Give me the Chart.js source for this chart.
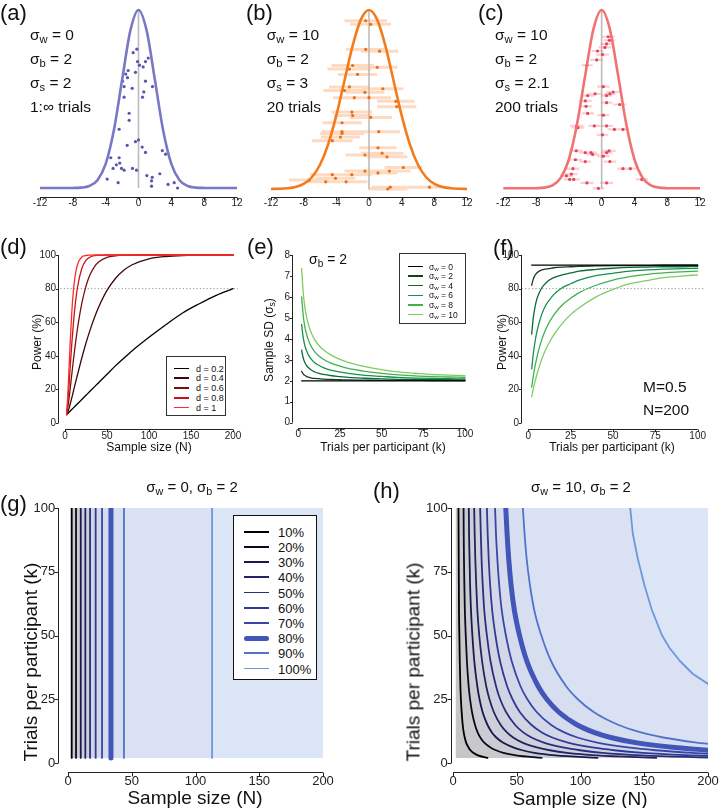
<!DOCTYPE html>
<html><head><meta charset="utf-8">
<script src="https://cdn.jsdelivr.net/npm/chart.js@4.4.1/dist/chart.umd.min.js"></script>
<style>
html,body{margin:0;padding:0;background:#fff;}
#fig{position:relative;width:719px;height:808px;overflow:hidden;font-family:'Liberation Sans',Arial,Helvetica,sans-serif;color:#111;}
canvas{position:absolute;}
.t{position:absolute;white-space:nowrap;line-height:1;}
.t sub,.lg sub{font-size:72%;vertical-align:-0.28em;line-height:0;}
.leg{position:absolute;background:#fff;box-sizing:border-box;}
.lg{position:absolute;white-space:nowrap;line-height:1;transform:translateY(-50%);}
.ls{position:absolute;}
</style></head>
<body><div id="fig"></div>
<script>
// ---------------- DATA ----------------
const GX = [-12,-11,-10,-9,-8,-7,-6,-5,-4,-3,-2,-1,0,1,2,3,4,5,6,7,8,9,10,11,12];
const GAUSS_A = [0,0,0,0,0.0003,0.0022,0.0111,0.0439,0.1353,0.3247,0.6065,0.8825,1,0.8825,0.6065,0.3247,0.1353,0.0439,0.0111,0.0022,0.0003,0,0,0,0];
const GAUSS_B = [0.0003,0.0012,0.0039,0.0111,0.0286,0.0657,0.1353,0.2494,0.4111,0.6065,0.8007,0.946,1,0.946,0.8007,0.6065,0.4111,0.2494,0.1353,0.0657,0.0286,0.0111,0.0039,0.0012,0.0003];
const GAUSS_C = [0,0,0,0.0001,0.0007,0.0039,0.0169,0.0587,0.1628,0.3604,0.6356,0.8929,1,0.8929,0.6356,0.3604,0.1628,0.0587,0.0169,0.0039,0.0007,0.0001,0,0,0];
const ROW1_TICKS = [-12,-8,-4,0,4,8,12];

const DOTS_A_X = [-0.65,-0.2,-0.12,1.18,0.85,0.12,0.57,-1.26,-0.37,-1.55,-1.95,-1.34,0.85,1.7,-1.75,-0.77,0.65,-1.75,0.49,-1.14,-1.14,-2.36,0,-0.37,-1.38,0.45,0.85,2.9,3.3,-3.38,-2.36,-2.28,-2.7,-3.1,-2.07,-1.75,-0.73,-0.24,2.6,1.02,1.67,1.59,-3.82,-2.48,1.59,3.6,4.35,4.76];
const DOTS_A_Y = [0.76,0.78,0.71,0.73,0.71,0.69,0.68,0.66,0.65,0.64,0.60,0.62,0.60,0.57,0.57,0.56,0.54,0.51,0.51,0.42,0.38,0.33,0.27,0.26,0.24,0.23,0.20,0.21,0.19,0.17,0.17,0.14,0.13,0.11,0.11,0.10,0.11,0.10,0.08,0.07,0.06,0.04,0.05,0.03,0.01,0.02,0.03,0.0];

const DOTS_B_X = [-0.4,0.2,-0.4,1.3,-2.0,1.0,-2.4,-1.4,-2.4,-3.0,-0.5,1.7,-1.8,0.0,3.3,3.4,-2.1,-2.0,0.2,-3.3,-3.3,1.2,-3.3,-3.5,-4.5,1.1,1.6,-0.5,2.2,4.2,2.5,-0.5,1.1,-4.5,-2.1,-4.1,-2.8,-5.3,2.6,2.3,7.4,-7.3];
const DOTS_B_Y = [0.94,0.92,0.78,0.77,0.69,0.68,0.67,0.64,0.57,0.55,0.54,0.56,0.51,0.51,0.49,0.46,0.43,0.41,0.40,0.37,0.32,0.32,0.31,0.29,0.27,0.23,0.20,0.19,0.18,0.12,0.10,0.10,0.09,0.08,0.08,0.06,0.04,0.04,0.01,0.0,0.01,0.05];
const ERR_B = [2.6,2.5,2.4,2.3,2.6,2.5,2.7,2.4,2.5,2.6,2.4,2.5,2.6,2.7,2.3,2.4,2.5,2.3,2.6,2.4,2.5,2.6,2.7,2.4,2.5,2.3,2.6,2.4,2.5,2.3,2.6,2.5,2.4,2.7,2.5,2.4,2.6,2.5,2.3,2.4,2.6,2.5];

const DOTS_C_X = [0.8,0.95,0.6,0.4,-0.5,0.1,-0.6,-1.8,0.2,1.4,1.0,-0.8,-1.7,0.6,-2.0,-1.9,0.6,2.2,-1.7,0.2,-3.05,-2.9,-0.9,0.6,1.55,2.6,0.1,-3.1,-2.0,-1.3,-1.1,0.9,0.6,0.2,-3.2,-2.0,1.0,-3.5,2.6,3.5,-3.7,-4.3,-3.9,-3.4,-1.8,4.9,-0.4,0.6];
const DOTS_C_Y = [0.85,0.83,0.81,0.79,0.77,0.75,0.72,0.69,0.57,0.54,0.53,0.53,0.52,0.52,0.49,0.46,0.48,0.47,0.42,0.41,0.35,0.34,0.35,0.35,0.33,0.33,0.30,0.21,0.20,0.20,0.19,0.21,0.20,0.18,0.16,0.15,0.15,0.11,0.11,0.11,0.08,0.07,0.05,0.05,0.03,0.05,0.0,0.03];
const ERR_C = [0.8,0.7,0.75,0.8,0.72,0.78,0.8,0.7,0.76,0.82,0.7,0.75,0.8,0.72,0.78,0.74,0.7,0.8,0.76,0.72,0.8,0.75,0.7,0.78,0.82,0.74,0.7,0.8,0.76,0.72,0.78,0.8,0.7,0.75,0.8,0.72,0.76,0.8,0.7,0.78,0.74,0.8,0.72,0.76,0.8,0.75,0.7,0.78];

const N_D = [2,3,4,5,6,8,10,12,15,20,25,30,35,40,50,60,70,80,100,120,140,160,180,200];
const POW_D02 = [5,5.5,6,6.5,7,8,9,10,11.5,14,16.5,19,21.5,24,29,34,38.5,43,51,58.5,65.5,71,76,80];
const POW_D04 = [5,6,7.5,9.0,10.9,14.8,18.9,23.0,29.0,38.7,47.6,55.6,62.7,68.9,78.9,86.0,90.9,94.2,97.7,99.1,99.7,99.9,100,100];
const POW_D06 = [5,8.5,11.3,15.3,19.7,28.6,37.4,45.6,56.6,71.2,81.5,88.5,93.0,95.8,98.6,99.5,99.9,100,100,100,100,100,100,100];
const POW_D08 = [5,10.9,16.7,24.0,31.8,46.6,59.3,69.7,81.1,92.0,96.8,98.8,99.6,99.8,100,100,100,100,100,100,100,100,100,100];
const POW_D10 = [5,13.9,23.5,35.0,46.2,65.2,78.6,87.3,94.5,98.8,99.7,99.9,100,100,100,100,100,100,100,100,100,100,100,100];
const D_LABELS = ['d = 0.2','d = 0.4','d = 0.6','d = 0.8','d = 1'];

const K_E = [2,3,4,5,6,8,10,12,15,20,25,30,40,50,60,70,80,90,100];
const SD_W0 = [2,2,2,2,2,2,2,2,2,2,2,2,2,2,2,2,2,2,2];
const SD_W2 = [2.45,2.32,2.25,2.20,2.17,2.13,2.11,2.10,2.08,2.06,2.05,2.04,2.03,2.02,2.02,2.02,2.01,2.01,2.01];
const SD_W4 = [3.46,3.07,2.86,2.72,2.63,2.50,2.42,2.36,2.30,2.24,2.20,2.16,2.12,2.09,2.07,2.06,2.05,2.05,2.04];
const SD_W6 = [4.69,4.03,3.66,3.42,3.25,3.01,2.85,2.75,2.63,2.50,2.42,2.35,2.26,2.21,2.16,2.13,2.11,2.10,2.09];
const SD_W8 = [6.00,5.08,4.54,4.21,3.95,3.60,3.37,3.21,3.03,2.83,2.70,2.59,2.45,2.35,2.28,2.23,2.20,2.18,2.16];
const SD_W10 = [7.35,6.16,5.48,5.04,4.71,4.24,3.94,3.72,3.48,3.21,3.02,2.88,2.67,2.53,2.42,2.36,2.30,2.27,2.24];
const W_LABELS = ['0','2','4','6','8','10'];

const POW_F_W0 = [94,94,94,94,94,94,94,94,94,94,94,94,94,94,94,94,94,94,94];
const POW_F_W2 = [82.0,85.9,88.0,89.3,90.1,91.1,91.6,91.9,92.4,92.8,93.0,93.3,93.5,93.7,93.7,93.7,93.9,93.9,93.9];
const POW_F_W4 = [52.9,63.0,69.2,73.6,76.4,80.5,82.9,84.8,86.5,88.2,89.3,90.4,91.4,92.1,92.6,92.8,93.0,93.0,93.3];
const POW_F_W6 = [32.2,41.5,48.5,53.9,58.2,64.8,69.5,72.6,76.4,80.5,82.9,85.1,87.7,89.1,90.4,91.1,91.6,91.9,92.1];
const POW_F_W8 = [21.4,28.2,34.0,38.6,42.9,49.8,55.1,59.2,64.2,70.2,74.2,77.6,82.0,85.1,87.1,88.5,89.3,89.9,90.4];
const POW_F_W10 = [15.7,20.6,24.8,28.5,32.0,38.1,43.1,47.2,52.5,59.2,64.5,68.6,75.1,79.5,82.9,84.8,86.5,87.4,88.2];

const LEVELS = ['10%','20%','30%','40%','50%','60%','70%','80%','90%','100%'];
const G_N = [2.9,6.3,10,13.6,17.3,21.7,26.7,33.7,43.9,113];
const K_RANGE = [2,100];
const N_MAX = 200;

const H_K = [100,90,80,70,60,50,40,30,25,20,15,12,10,8,6,5,4,3,2];
const H_N_10 = [4.3,4.4,4.5,4.6,4.7,5.0,5.3,5.8,6.2,6.8,7.6,8.4,9.2,10.3,12.3,13.7,15.9,19.6,27.0];
const H_N_20 = [8.3,8.4,8.6,8.9,9.3,10.0,10.9,12.3,13.4,14.9,17.2,19.3,21.4,24.5,29.7,33.8,39.5,49.5,69.5];
const H_N_30 = [12.4,12.6,13.0,13.4,14.1,15.2,16.7,19.1,20.8,23.2,27.0,30.5,34.0,39.1,47.7,54.4,63.9,80.4,113.3];
const H_N_40 = [16.6,17.0,17.5,18.2,19.1,20.6,22.8,26.1,28.6,32.0,37.3,42.3,47.2,54.5,66.6,76.0,89.4,112.7,159.4];
const H_K_50 = [100,90,80,70,60,50,40,30,25,20,15,12,10,8,6,5,4,3,2.1];
const H_N_50 = [21.3,21.8,22.4,23.3,24.5,26.6,29.4,33.8,37.0,41.6,48.6,55.1,61.6,71.2,87.2,99.6,117.3,148.0,200];
const H_K_60 = [100,90,80,70,60,50,40,30,25,20,15,12,10,8,6,5,4,3,2.78];
const H_N_60 = [26.6,27.2,28.0,29.1,30.7,33.3,36.9,42.5,46.7,52.4,61.4,69.7,77.9,90.1,110.6,126.4,148.9,188.1,200];
const H_K_70 = [100,90,80,70,60,50,40,30,25,20,15,12,10,8,6,5,4,3.67];
const H_N_70 = [33.0,33.7,34.8,36.2,38.2,41.5,46.0,53.0,58.3,65.6,76.8,87.3,97.6,113.1,138.8,158.7,187.1,200];
const H_K_80 = [100,90,80,70,60,50,40,30,25,20,15,12,10,8,6,5.04];
const H_N_80 = [41.4,42.4,43.7,45.5,48.1,52.2,57.9,66.9,73.6,82.9,97.2,110.6,123.7,143.3,176.1,200];
const H_K_90 = [100,90,80,70,60,50,40,30,25,20,15,12,10,8,7.5];
const H_N_90 = [54.8,56.1,57.8,60.3,63.7,69.3,76.9,88.9,97.9,110.3,129.5,147.4,164.9,191.2,200];
const H_K_100 = [100,90,80,70,60,50,45,40,35,31];
const H_N_100 = [139,141,145,150,156,164,170,178,188,200];

// ---------------- STYLE ----------------
const FONT = "'Liberation Sans', Arial, Helvetica, sans-serif";
const REDS = ['#000000','#3b0707','#7a0d0d','#c41515','#ff2b2b'];
const GREENS = ['#000000','#173f1e','#0c6b34','#16914a','#3fb152','#80cc62'];
const CONT = ['#000000','#0b0b1e','#1a1a4a','#222463','#2a2f7c','#313a93','#3846a8','#4255b8','#5074cb','#6c97dd'];
const FILLS = ['#c6c6c6','#c9c9cd','#cbccd3','#cdcfd9','#cfd2de','#d1d5e3','#d3d8e8','#d5dbec','#d7def0','#d9e1f3','#dce5f6'];

const fig = document.getElementById('fig');
const pts = (xs, ys) => xs.map((x,i)=>({x, y: ys[i]}));
function errSegments(xs, ys, es){
  const out=[];
  xs.forEach((x,i)=>{ out.push({x:x-es[i],y:ys[i]},{x:x+es[i],y:ys[i]},{x:x,y:null}); });
  return out;
}
function axisRange(ref, pa, pb){
  const [v0,p0,v1,p1]=ref; const s=(v1-v0)/(p1-p0);
  return [v0+(pa-p0)*s, v0+(pb-p0)*s];
}
function panel(cfg){
  const R=cfg.rect, A=cfg.area;
  const c=document.createElement('canvas');
  c.width=R.w; c.height=R.h;
  c.style.left=R.l+'px'; c.style.top=R.t+'px'; c.style.width=R.w+'px'; c.style.height=R.h+'px';
  fig.appendChild(c);
  const [xmin,xmax]=axisRange(cfg.xref,A.l,A.r);
  const [ymin,ymax]=axisRange(cfg.yref,A.b,A.t);
  const tf={family:FONT,size:cfg.tickSize,lineHeight:1};
  const L=cfg.tickLen;
  const rAxes={id:'rAxes'+Math.random().toString(36).slice(2),afterDraw(chart){
    const ctx=chart.ctx, a=chart.chartArea;
    ctx.save(); ctx.strokeStyle='#222'; ctx.lineWidth=1; ctx.beginPath();
    const xs=chart.scales.x, xt=xs.ticks;
    if(xt.length){
      const y=Math.round(a.bottom)+0.5;
      ctx.moveTo(xs.getPixelForValue(xt[0].value),y); ctx.lineTo(xs.getPixelForValue(xt[xt.length-1].value),y);
      xt.forEach(t=>{const p=Math.round(xs.getPixelForValue(t.value))+0.5; ctx.moveTo(p,y); ctx.lineTo(p,y+L);});
    }
    const ys=chart.scales.y, yt=ys.ticks;
    if(cfg.yticks && yt.length){
      const x=Math.round(a.left)-0.5;
      ctx.moveTo(x,ys.getPixelForValue(yt[0].value)); ctx.lineTo(x,ys.getPixelForValue(yt[yt.length-1].value));
      yt.forEach(t=>{const p=Math.round(ys.getPixelForValue(t.value))+0.5; ctx.moveTo(x,p); ctx.lineTo(x-L,p);});
    }
    ctx.stroke(); ctx.restore();
  }};
  const zeroPad=s=>{s.paddingLeft=0;s.paddingRight=0;s.paddingTop=0;s.paddingBottom=0;};
  return new Chart(c,{type:'line',data:{datasets:cfg.datasets},options:{
    responsive:false,animation:false,devicePixelRatio:1,events:[],
    layout:{padding:{left:0,top:A.t-R.t,right:R.l+R.w-A.r,bottom:0}},
    plugins:{legend:{display:false},tooltip:{enabled:false}},
    elements:{point:{radius:0},line:{borderCapStyle:'round',borderJoinStyle:'round'}},
    scales:{
      x:{type:'linear',bounds:'data',min:xmin,max:xmax,
        afterBuildTicks:s=>{s.ticks=cfg.xticks.map(v=>({value:v}));},
        afterFit:s=>{s.height=R.t+R.h-A.b; zeroPad(s);},
        grid:{display:false,drawTicks:false},border:{display:false},
        ticks:{font:tf,color:'#222',padding:cfg.padX,autoSkip:false,maxRotation:0,minRotation:0}},
      y:{type:'linear',bounds:'data',min:ymin,max:ymax,
        afterBuildTicks:s=>{s.ticks=(cfg.yticks||[]).map(v=>({value:v}));},
        afterFit:s=>{s.width=A.l-R.l; zeroPad(s);},
        grid:{display:false,drawTicks:false},border:{display:false},
        ticks:{display:!!cfg.yticks,font:tf,color:'#222',padding:cfg.padY||0,autoSkip:false}}
    }
  },plugins:[rAxes]});
}
function txt(html,x,y,size,mode){
  const d=document.createElement('div'); d.className='t'; d.innerHTML=html;
  d.style.fontSize=size+'px'; d.style.left=x+'px'; d.style.top=y+'px';
  d.style.transform = mode==='c' ? 'translate(-50%,-50%)' : mode==='r' ? 'translate(-50%,-50%) rotate(-90deg)' : 'translateY(-50%)';
  fig.appendChild(d);
}
function legend(box, items, o){
  const d=document.createElement('div'); d.className='leg';
  d.style.left=box.l+'px'; d.style.top=box.t+'px'; d.style.width=box.w+'px'; d.style.height=box.h+'px';
  d.style.border=o.border;
  items.forEach((it,i)=>{
    const y=o.y0+i*o.dy;
    const s=document.createElement('div'); s.className='ls';
    s.style.left=o.lx+'px'; s.style.width=o.lw+'px'; s.style.top=(y-it.w/2)+'px'; s.style.height=it.w+'px';
    s.style.background=it.c; if(it.w>3) s.style.borderRadius=(it.w/2)+'px';
    d.appendChild(s);
    const t=document.createElement('div'); t.className='lg'; t.innerHTML=it.label;
    t.style.left=o.tx+'px'; t.style.top=y+'px'; t.style.fontSize=o.size+'px';
    d.appendChild(t);
  });
  fig.appendChild(d);
}

// ---------------- ROW 1 ----------------
function row1(rect, area, xref, yref, gauss, curveColor, dotsX, dotsY, dotColor, err, errColor, errW){
  const peak=Math.max(...gauss);
  const ds=[
    {data:pts(GX,gauss),borderColor:curveColor,borderWidth:2.6,cubicInterpolationMode:'monotone',order:0},
    {data:pts(dotsX,dotsY),showLine:false,pointRadius:1.6,pointBackgroundColor:dotColor,pointBorderWidth:0,order:1},
    {data:[{x:0,y:0},{x:0,y:peak}],borderColor:'#bcbcbc',borderWidth:1.6,borderCapStyle:'butt',order:3}
  ];
  if(err) ds.push({data:errSegments(dotsX,dotsY,err),borderColor:errColor,borderWidth:errW,borderCapStyle:'butt',spanGaps:false,order:2});
  panel({rect,area,xref,yref,xticks:ROW1_TICKS,yticks:null,tickSize:10,tickLen:3,padX:1.5,datasets:ds});
}
row1({l:0,t:0,w:245,h:222},{l:40,t:5,r:237,b:196.7},[-12,40,12,237],[0,188,1,10],GAUSS_A,'#7878c6',DOTS_A_X,DOTS_A_Y,'#5656b0',null);
row1({l:240,t:0,w:240,h:222},{l:271,t:5,r:467,b:196.7},[-12,271,12,467],[0,189,1,10],GAUSS_B,'#f47b1b',DOTS_B_X,DOTS_B_Y,'#ef6d18',ERR_B,'rgba(250,170,110,0.42)',3);
row1({l:478,t:0,w:241,h:222},{l:503.3,t:5,r:700,b:196.7},[-12,503.3,12,700],[0,188.3,1,10],GAUSS_C,'#f27272',DOTS_C_X,DOTS_C_Y,'#e4455a',ERR_C,'rgba(240,130,140,0.38)',2.2);

txt('(a)',0,13,22); txt('(b)',246,13,22); txt('(c)',478,13,22);
const R1Y=[35,59,83,107];
[[30,['σ<sub>w</sub> = 0','σ<sub>b</sub> = 2','σ<sub>s</sub> = 2','1:∞ trials']],
 [266.7,['σ<sub>w</sub> = 10','σ<sub>b</sub> = 2','σ<sub>s</sub> = 3','20 trials']],
 [495,['σ<sub>w</sub> = 10','σ<sub>b</sub> = 2','σ<sub>s</sub> = 2.1','200 trials']]].forEach(([x,lines])=>{
  lines.forEach((l,i)=>txt(l,x,R1Y[i],15.5));
});

// ---------------- ROW 2 ----------------
const refLine80 = {data:[{x:-50,y:80},{x:300,y:80}],borderColor:'#8a8a8a',borderWidth:0.9,borderDash:[1.2,2.2],borderCapStyle:'butt',order:9};
panel({rect:{l:0,t:235,w:245,h:215},area:{l:59.3,t:252,r:238,b:429.3},xref:[0,65,200,233],yref:[0,423,100,255],
  xticks:[0,50,100,150,200],yticks:[0,20,40,60,80,100],tickSize:10,tickLen:2.5,padX:1.5,padY:3.2,
  datasets:[POW_D02,POW_D04,POW_D06,POW_D08,POW_D10].map((arr,i)=>({data:pts(N_D,arr),borderColor:REDS[i],borderWidth:1.3,cubicInterpolationMode:'monotone',order:5-i})).concat([refLine80])});
panel({rect:{l:240,t:235,w:235,h:215},area:{l:293.3,t:252,r:468,b:427.7},xref:[0,298.3,100,465],yref:[0,422.7,8,255],
  xticks:[0,25,50,75,100],yticks:[0,1,2,3,4,5,6,7,8],tickSize:10,tickLen:2.5,padX:1.5,padY:3.2,
  datasets:[SD_W0,SD_W2,SD_W4,SD_W6,SD_W8,SD_W10].map((arr,i)=>({data:pts(K_E,arr),borderColor:GREENS[i],borderWidth:1.3,cubicInterpolationMode:'monotone',order:i}))});
panel({rect:{l:475,t:235,w:244,h:215},area:{l:522.3,t:252,r:705,b:429.3},xref:[0,528.3,100,697.7],yref:[0,423,100,255],
  xticks:[0,25,50,75,100],yticks:[0,20,40,60,80,100],tickSize:10,tickLen:2.5,padX:1.5,padY:3.2,
  datasets:[POW_F_W0,POW_F_W2,POW_F_W4,POW_F_W6,POW_F_W8,POW_F_W10].map((arr,i)=>({data:pts(K_E,arr),borderColor:GREENS[i],borderWidth:1.3,cubicInterpolationMode:'monotone',order:i})).concat([refLine80])});

txt('(d)',0,247,22); txt('(e)',247,247,22); txt('(f)',493,248,22);
txt('Power (%)',37,342,12,'r'); txt('Sample SD (σ<sub>s</sub>)',269,340,12,'r'); txt('Power (%)',502,342,12,'r');
txt('Sample size (N)',149,447,12,'c'); txt('Trials per participant (k)',383,447,12,'c'); txt('Trials per participant (k)',612,447,12,'c');
txt('σ<sub>b</sub> = 2',309,259,14);
txt('M=0.5',643,387,15.5); txt('N=200',643,410,15.5);
legend({l:166,t:356,w:60,h:60},D_LABELS.map((l,i)=>({label:l,c:REDS[i],w:1.6})),{border:'1px solid #333',y0:11.5,dy:9.75,lx:7,lw:15,tx:29,size:9});
legend({l:399,t:253,w:67,h:71},W_LABELS.map((l,i)=>({label:'σ<sub>w</sub> = '+l,c:GREENS[i],w:1.6})),{border:'1px solid #333',y0:12.5,dy:9.6,lx:7.5,lw:15,tx:29,size:8.5});

// ---------------- ROW 3 ----------------
const lineW = i => i===7 ? 5 : 1.8;
function gDatasets(){
  const ds=[];
  ds.push({data:[{x:K_RANGE[0],y:K_RANGE[0]},{x:N_MAX,y:K_RANGE[0]}],borderWidth:0,borderColor:'rgba(0,0,0,0)',fill:'end',backgroundColor:FILLS[0],order:100});
  G_N.forEach((n,i)=>{
    ds.push({data:[{x:n,y:K_RANGE[0]},{x:N_MAX,y:K_RANGE[0]}],borderWidth:0,borderColor:'rgba(0,0,0,0)',fill:'end',backgroundColor:FILLS[i+1],order:99-i});
    ds.push({data:[{x:n,y:K_RANGE[0]},{x:n,y:K_RANGE[1]}],borderColor:CONT[i],borderWidth:lineW(i),order:20-i});
  });
  return ds;
}
function hDatasets(){
  const curves=[[H_N_10,H_K],[H_N_20,H_K],[H_N_30,H_K],[H_N_40,H_K],[H_N_50,H_K_50],[H_N_60,H_K_60],[H_N_70,H_K_70],[H_N_80,H_K_80],[H_N_90,H_K_90],[H_N_100,H_K_100]];
  const ds=[];
  ds.push({data:[{x:K_RANGE[0],y:K_RANGE[0]},{x:N_MAX,y:K_RANGE[0]}],borderWidth:0,borderColor:'rgba(0,0,0,0)',fill:'end',backgroundColor:FILLS[0],order:100});
  curves.forEach(([ns,ks],i)=>{
    const p=pts(ns,ks);
    const last=p[p.length-1];
    const fp = last.x<N_MAX ? p.concat([{x:N_MAX,y:last.y}]) : p;
    const mode = i===9 ? 'default' : 'monotone';
    ds.push({data:fp,borderWidth:0,borderColor:'rgba(0,0,0,0)',fill:'end',backgroundColor:FILLS[i+1],cubicInterpolationMode:mode,order:99-i});
    ds.push({data:p,borderColor:CONT[i],borderWidth:lineW(i),cubicInterpolationMode:mode,order:20-i});
  });
  return ds;
}
panel({rect:{l:0,t:495,w:360,h:300},area:{l:59.3,t:508,r:323,b:772},xref:[0,68,200,323],yref:[0,763,100,508],
  xticks:[0,50,100,150,200],yticks:[0,25,50,75,100],tickSize:13,tickLen:4,padX:3,padY:4,datasets:gDatasets()});
panel({rect:{l:360,t:495,w:359,h:300},area:{l:451.7,t:508,r:708,b:772},xref:[0,453,200,708],yref:[0,763,100,508],
  xticks:[0,50,100,150,200],yticks:[0,25,50,75,100],tickSize:13,tickLen:4,padX:3,padY:4,datasets:hDatasets()});

txt('(g)',0,504,22); txt('(h)',373,491,22);
txt('σ<sub>w</sub> = 0, σ<sub>b</sub> = 2',192,486,15,'c');
txt('σ<sub>w</sub> = 10, σ<sub>b</sub> = 2',581,486,15,'c');
txt('Sample size (N)',195,797,19,'c'); txt('Sample size (N)',580,798,19,'c');
txt('Trials per participant (k)',30,662,19,'r'); txt('Trials per participant (k)',413,662,19,'r');
legend({l:233,t:515,w:84,h:165},LEVELS.map((l,i)=>({label:l,c:CONT[i],w:lineW(i)})),{border:'1.3px solid #111',y0:15.7,dy:15.2,lx:10,lw:25,tx:44,size:13});
</script></body></html>
